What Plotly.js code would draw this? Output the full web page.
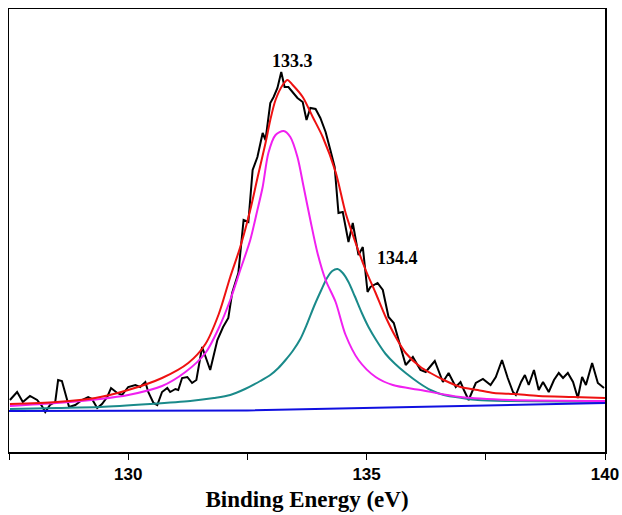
<!DOCTYPE html>
<html>
<head>
<meta charset="utf-8">
<script src="https://cdn.plot.ly/plotly-3.0.1.min.js"></script>
<style>html,body{margin:0;padding:0;background:#fff;}#chart{width:622px;height:515px;}</style>
</head>
<body>
<div id="chart"></div>
<script>
// Raw spectrum (Binding energy, eV) and intensity (a.u.)
const rawX = [127.52,127.67,127.79,127.94,128.09,128.19,128.26,128.36,128.47,128.53,128.61,128.70,128.76,128.89,129.03,129.16,129.24,129.35,129.45,129.56,129.64,129.77,129.87,130.00,130.15,130.25,130.36,130.42,130.53,130.61,130.71,130.82,130.88,130.99,131.05,131.13,131.24,131.34,131.43,131.55,131.62,131.72,131.87,131.99,132.10,132.18,132.31,132.42,132.52,132.61,132.71,132.82,132.88,132.98,133.05,133.13,133.21,133.28,133.36,133.45,133.55,133.66,133.74,133.82,133.93,134.03,134.14,134.24,134.33,134.37,134.41,134.50,134.62,134.71,134.83,134.92,135.02,135.08,135.23,135.34,135.46,135.57,135.67,135.82,135.97,136.13,136.24,136.43,136.60,136.72,136.87,136.97,137.04,137.14,137.29,137.44,137.60,137.71,137.84,137.96,138.07,138.13,138.24,138.32,138.40,138.51,138.61,138.70,138.82,138.93,139.03,139.12,139.22,139.33,139.43,139.52,139.60,139.73,139.85,139.98];
const rawY = [52,60,50,56,52,46,40,47,50,72,71,54,45,47,52,55,53,44,48,55,64,59,57,65,67,65,70,60,49,47,60,64,60,63,62,74,75,69,72,105,95,82,112,125,134,159,179,232,230,282,295,319,312,349,355,364,380,365,365,360,354,350,332,344,343,334,320,302,285,262,239,240,210,229,197,205,160,165,169,162,135,129,112,87,95,82,80,91,70,79,65,70,62,52,69,73,67,75,92,74,60,57,70,77,67,82,62,70,60,72,79,74,79,70,54,75,67,89,69,64];

// Fitted envelope (red)
const fitX = [127.52,128.50,129.31,130.00,130.71,131.26,131.62,131.90,132.14,132.35,132.56,132.72,132.88,132.98,133.09,133.24,133.34,133.45,133.66,133.87,134.08,134.35,134.56,134.77,134.98,135.19,135.40,135.61,135.82,136.13,136.34,136.62,136.97,137.33,137.67,138.09,138.61,139.33,140.00];
const fitY = [48,50,54,62,74,89,108,138,175,205,242,276,309,332,352,367,372,367,355,335,315,280,239,209,182,159,135,115,99,85,79,72,65,62,59,58,56,55,54];

// Component at 133.3 eV (magenta)
const p1X = [127.52,128.50,129.41,130.00,130.71,131.20,131.62,131.90,132.14,132.35,132.56,132.70,132.82,132.94,133.09,133.26,133.40,133.55,133.68,133.82,133.97,134.14,134.35,134.56,134.83,135.19,135.55,136.13,136.97,138.03,140.00];
const p1Y = [46,49,53,57,66,80,99,124,152,182,212,240,265,299,317,321,315,295,265,232,199,172,150,117,92,75,67,62,55,52,51];

// Component at 134.4 eV (teal)
const p2X = [127.52,128.50,129.41,130.46,131.30,131.80,132.14,132.45,132.77,132.98,133.15,133.30,133.45,133.61,133.75,133.90,134.05,134.17,134.28,134.39,134.50,134.62,134.75,134.90,135.04,135.20,135.40,135.60,135.82,136.10,136.34,136.62,137.00,137.33,138.03,140.00];
const p2Y = [43,44,45,48,51,54,57,63,71,77,84,92,101,113,128,146,162,174,181,183,179,170,156,139,125,112,98,88,79,69,62,57,54,52,51,50];

// Background (blue)
const bgX = [127.50,132.50,140.00];
const bgY = [41,41.5,49];

const peakLabels = ['133.3','134.4'];
const xTickVals = [130,135,140];

const traces = [
  {x: rawX, y: rawY, mode:'lines', line:{color:'#000000', width:2}},
  {x: p2X, y: p2Y, mode:'lines', line:{color:'#1a8a8a', width:2, shape:'spline', smoothing:0.8}},
  {x: p1X, y: p1Y, mode:'lines', line:{color:'#f020f0', width:2, shape:'spline', smoothing:0.8}},
  {x: bgX, y: bgY, mode:'lines', line:{color:'#1010e0', width:2}},
  {x: fitX, y: fitY, mode:'lines', line:{color:'#ee1111', width:2, shape:'spline', smoothing:0.8}}
];

const layout = {
  width: 622, height: 515,
  margin: {l: 9, r: 17, t: 9, b: 63},
  paper_bgcolor: '#ffffff', plot_bgcolor: '#ffffff',
  showlegend: false,
  xaxis: {
    range: [127.5, 140], tickvals: xTickVals, ticktext: xTickVals.map(String),
    ticks: 'outside', ticklen: 6, tickwidth: 1, tickcolor: '#000',
    minor: {tickvals: [127.5,132.5,137.5], ticks:'outside', ticklen: 6, tickwidth:1, tickcolor:'#000'},
    showline: true, mirror: true, linecolor: '#000', linewidth: 1.5,
    showgrid: false, zeroline: false,
    tickfont: {family: 'Liberation Sans, Arial, sans-serif', size: 17, color: '#000', weight: 'bold'},
    title: {text: 'Binding Energy (eV)', font: {family: 'Liberation Serif, Times New Roman, serif', size: 23, color:'#000', weight:'bold'}, standoff: 8}
  },
  yaxis: {
    range: [0, 443], showticklabels: false, ticks: '', showgrid: false, zeroline: false,
    showline: true, mirror: true, linecolor: '#000', linewidth: 1.5
  },
  annotations: [
    {x: 133.45, y: 391, text: peakLabels[0], showarrow: false, font: {family:'Liberation Serif, Times New Roman, serif', size: 18, color:'#000', weight:'bold'}},
    {x: 135.65, y: 194, text: peakLabels[1], showarrow: false, font: {family:'Liberation Serif, Times New Roman, serif', size: 18, color:'#000', weight:'bold'}}
  ]
};

Plotly.newPlot('chart', traces, layout, {displayModeBar: false, staticPlot: true});
</script>
</body>
</html>
